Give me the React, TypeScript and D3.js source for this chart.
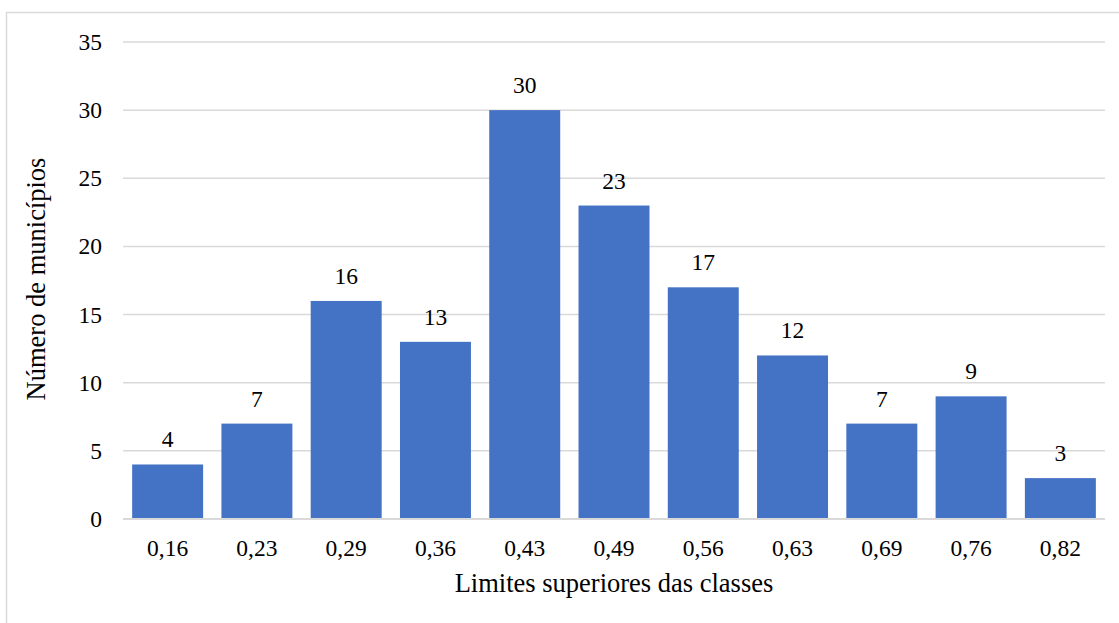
import React from "react";
import * as d3 from "d3";

const categories = ["0,16", "0,23", "0,29", "0,36", "0,43", "0,49", "0,56", "0,63", "0,69", "0,76", "0,82"];
const values = [4, 7, 16, 13, 30, 23, 17, 12, 7, 9, 3];
const yTicks = [0, 5, 10, 15, 20, 25, 30, 35];
const yTitle = "Número de municípios";
const xTitle = "Limites superiores das classes";

const W = 1119;
const H = 623;
const left = 123;
const right = 1105;
const top = 42;
const bottom = 519;
const txt: React.CSSProperties = { fontFamily: '"Liberation Serif", "DejaVu Serif", serif', fontSize: 23.5 };
const ttl: React.CSSProperties = { fontFamily: '"Liberation Serif", "DejaVu Serif", serif', fontSize: 26.5 };

export default function App() {
  const x = d3.scaleBand<string>().domain(categories).range([left, right]).paddingInner(0.205).paddingOuter(0.1025);
  const y = d3.scaleLinear().domain([0, 35]).range([bottom, top]);

  return (
    <svg width={W} height={H} style={{ position: "absolute", left: 0, top: 0, background: "#fff" }}>
      <rect x={6.5} y={12.5} width={W + 10} height={H + 10} fill="#fff" stroke="#d9d9d9" strokeWidth={1.5} />
      {yTicks.map((t) => (
        <g key={t}>
          <line x1={left} x2={right} y1={y(t)} y2={y(t)} stroke="#d9d9d9" strokeWidth={t === 0 ? 1.8 : 1.5} />
          <text x={102} y={y(t)} dy="0.34em" textAnchor="end" style={txt} fill="#000">
            {t}
          </text>
        </g>
      ))}
      {categories.map((c, i) => (
        <g key={c}>
          <rect x={x(c)} y={y(values[i])} width={x.bandwidth()} height={y(0) - y(values[i])} fill="#4472C4" />
          <text x={(x(c) as number) + x.bandwidth() / 2} y={y(values[i]) - 17} textAnchor="middle" style={txt} fill="#000">
            {values[i]}
          </text>
          <text x={(x(c) as number) + x.bandwidth() / 2} y={556} textAnchor="middle" style={txt} fill="#000">
            {c}
          </text>
        </g>
      ))}
      <line x1={left} x2={right} y1={y(0)} y2={y(0)} stroke="#d9d9d9" strokeWidth={1.8} />
      <text x={614} y={592} textAnchor="middle" style={ttl} fill="#000">
        {xTitle}
      </text>
      <text transform={`translate(45, 279) rotate(-90)`} textAnchor="middle" style={ttl} fill="#000">
        {yTitle}
      </text>
    </svg>
  );
}
